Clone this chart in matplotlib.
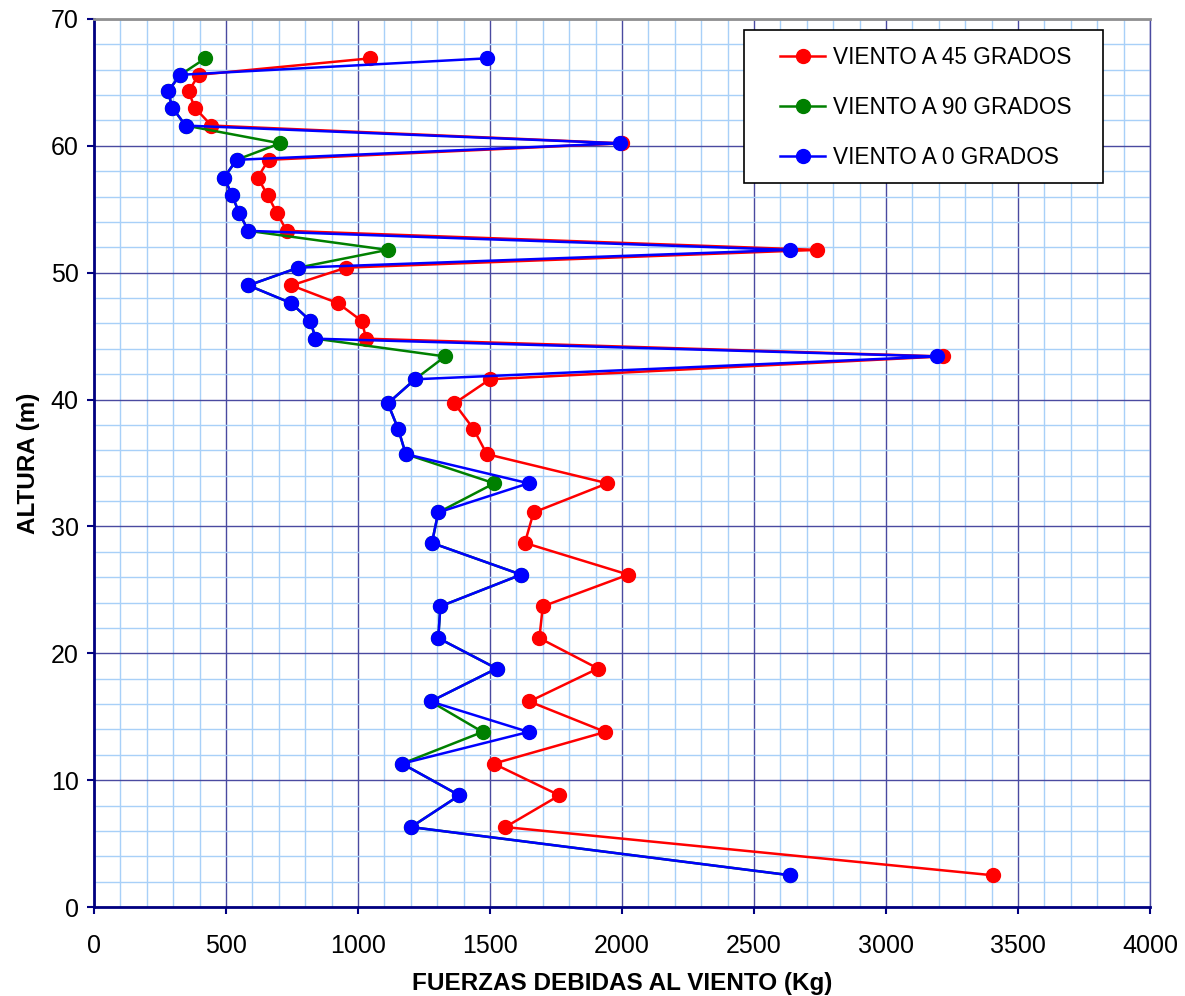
import matplotlib.pyplot as plt
from matplotlib.ticker import MultipleLocator
from matplotlib.patches import Rectangle

plt.rcParams['font.family'] = ['Liberation Sans', 'DejaVu Sans']

# alturas (m), de abajo hacia arriba
heights = [2.5, 6.3, 8.8, 11.3, 13.8, 16.2, 18.8, 21.2, 23.7, 26.2, 28.7, 31.1,
           33.4, 35.7, 37.7, 39.7, 41.6, 43.4, 44.8, 46.2, 47.6, 49.0, 50.4, 51.8,
           53.3, 54.7, 56.1, 57.5, 58.9, 60.2, 61.6, 63.0, 64.3, 65.6, 66.9]

# fuerzas (Kg)
wind_45 = [3405, 1558, 1763, 1514, 1937, 1649, 1909, 1687, 1700, 2024, 1632, 1665,
           1945, 1488, 1437, 1365, 1500, 3215, 1031, 1014, 924, 748, 955, 2739,
           730, 693, 658, 620, 661, 2000, 445, 382, 358, 397, 1047]
wind_90 = [2638, 1201, 1384, 1167, 1472, 1275, 1525, 1304, 1312, 1618, 1280, 1304,
           1516, 1181, 1152, 1113, 1216, 1330, 839, 820, 747, 585, 774, 1112,
           585, 550, 523, 493, 540, 705, 347, 297, 280, 327, 422]
wind_0 = [2638, 1201, 1384, 1167, 1646, 1275, 1525, 1304, 1312, 1618, 1280, 1304,
          1646, 1181, 1152, 1113, 1216, 3195, 839, 820, 747, 585, 774, 2636,
          585, 550, 523, 493, 540, 1992, 347, 297, 280, 327, 1489]

series = [
    ("VIENTO A 45 GRADOS", wind_45, '#ff0000'),
    ("VIENTO A 90 GRADOS", wind_90, '#008000'),
    ("VIENTO A 0 GRADOS", wind_0, '#0000ff'),
]

fig = plt.figure(figsize=(11.85, 9.96), dpi=100)
ax = fig.add_axes([94 / 1185, 1 - 907 / 996, 1056 / 1185, 888 / 996])

for i, (label, xs, col) in enumerate(series):
    ax.plot(xs, heights, color=col, linewidth=1.8, marker='o', markersize=10,
            label=label, zorder=3 + i)

# rejilla
ax.set_xlim(0, 4000)
ax.set_ylim(0, 70)
ax.xaxis.set_major_locator(MultipleLocator(500))
ax.xaxis.set_minor_locator(MultipleLocator(100))
ax.yaxis.set_major_locator(MultipleLocator(10))
ax.yaxis.set_minor_locator(MultipleLocator(2))
ax.grid(which='minor', color='#a8d0f8', linewidth=1.0, zorder=0)
ax.grid(which='major', color='#4a4aa0', linewidth=1.0, zorder=1)
ax.set_axisbelow(True)

ax.tick_params(which='major', direction='out', length=5, width=1.5, color='#000080',
               labelsize=18)
ax.tick_params(axis='x', pad=14.5)
ax.tick_params(axis='y', pad=6)
ax.tick_params(which='minor', length=0)

ax.spines['left'].set_color('#000080')
ax.spines['left'].set_linewidth(2)
ax.spines['bottom'].set_color('#000080')
ax.spines['bottom'].set_linewidth(2)
ax.spines['top'].set_color('#909090')
ax.spines['top'].set_linewidth(2)
ax.spines['right'].set_color('#4a4aa0')
ax.spines['right'].set_linewidth(1)

ax.set_xlabel("FUERZAS DEBIDAS AL VIENTO (Kg)", fontsize=17.5, fontweight='bold',
              labelpad=10)
ax.set_ylabel("ALTURA (m)", fontsize=17.5, fontweight='bold', labelpad=8)

# cuadro de leyenda
ax.add_patch(Rectangle((0.6155, 0.8153), 0.34, 0.1723, transform=ax.transAxes,
                       facecolor='white', edgecolor='black', linewidth=1.2,
                       zorder=10))
leg = ax.legend(loc='upper left', bbox_to_anchor=(0.6495, 0.9696),
                fontsize=16.3, frameon=False, handlelength=2.0, handletextpad=0.35,
                labelspacing=1.2, borderpad=0, borderaxespad=0)
leg.set_zorder(11)

fig.savefig("out.png", dpi=100)
